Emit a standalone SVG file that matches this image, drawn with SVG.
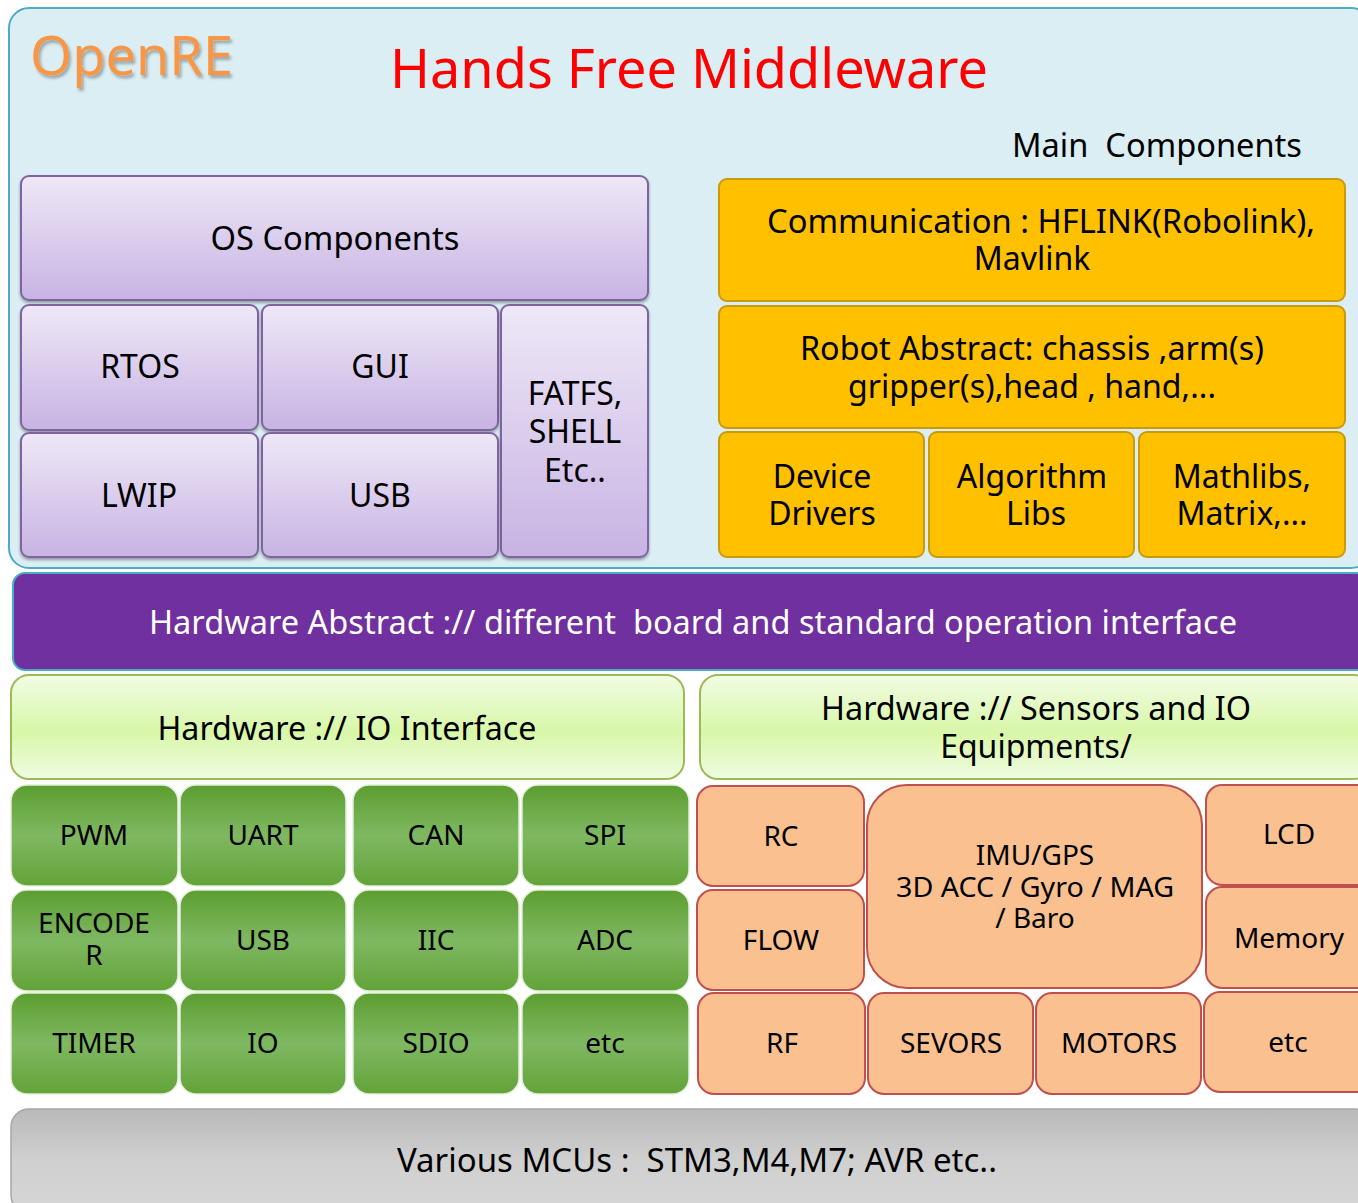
<svg xmlns="http://www.w3.org/2000/svg" width="1358" height="1203" viewBox="0 0 1358 1203">
<defs>
<linearGradient id="gPurple" x1="0" y1="0" x2="0" y2="1">
<stop offset="0" stop-color="#EEE8F7"/><stop offset="1" stop-color="#C8B3E3"/>
</linearGradient>
<linearGradient id="gGreen" x1="0" y1="0" x2="0" y2="1">
<stop offset="0" stop-color="#5C9E30"/><stop offset="0.5" stop-color="#7FB862"/><stop offset="1" stop-color="#62A338"/>
</linearGradient>
<linearGradient id="gLime" x1="0" y1="0" x2="0" y2="1">
<stop offset="0" stop-color="#F1FCE4"/><stop offset="0.55" stop-color="#D8F7A8"/><stop offset="1" stop-color="#F0FCE2"/>
</linearGradient>
<linearGradient id="gGrey" x1="0" y1="0" x2="0" y2="1">
<stop offset="0" stop-color="#B9B9B9"/><stop offset="0.5" stop-color="#D0D0D0"/><stop offset="1" stop-color="#D6D6D6"/>
</linearGradient>
<filter id="shadow" x="-10%" y="-10%" width="120%" height="130%">
<feDropShadow dx="0" dy="2" stdDeviation="1.5" flood-color="#000" flood-opacity="0.35"/>
</filter>
<filter id="tshadow" x="-10%" y="-10%" width="130%" height="140%">
<feDropShadow dx="2" dy="3" stdDeviation="1.5" flood-color="#000" flood-opacity="0.3"/>
</filter>
</defs>
<style>
text{font-family:"Noto Sans","Open Sans","Liberation Sans",sans-serif;text-anchor:middle;fill:#000}
.purple{fill:url(#gPurple);stroke:#7F64A2;stroke-width:2;filter:url(#shadow)}
.gold{fill:#FFC000;stroke:#C99A0C;stroke-width:2}
.green{fill:url(#gGreen);stroke:#E4EEDC;stroke-width:1.5}
.salmon{fill:#FAC090;stroke:#C0504D;stroke-width:2}
.lime{fill:url(#gLime);stroke:#9BBB59;stroke-width:2}
.t32{font-size:32px}
.t28{font-size:28px}
</style>

<g id="top-panel">
<rect x="9" y="8" width="1362" height="560" rx="20" fill="#DAEEF3" stroke="#4BACC6" stroke-width="2"/>
<text x="30" y="75" font-size="54" style="text-anchor:start;fill:#F79646" filter="url(#tshadow)" textLength="203" lengthAdjust="spacingAndGlyphs">OpenRE</text>
<text x="689" y="88" font-size="54" style="fill:#FF0000" textLength="598" lengthAdjust="spacingAndGlyphs">Hands Free Middleware</text>
<text x="1157" y="157" class="t32" xml:space="preserve" textLength="290" lengthAdjust="spacingAndGlyphs">Main  Components</text>
</g>

<g id="os-components">
<rect class="purple" x="21" y="176" width="627" height="124" rx="8"/>
<text x="335" y="250" class="t32" textLength="249" lengthAdjust="spacingAndGlyphs">OS Components</text>
</g>
<g id="rtos">
<rect class="purple" x="21" y="305" width="237" height="125" rx="8"/>
<text x="140" y="378" class="t32">RTOS</text>
</g>
<g id="gui">
<rect class="purple" x="262" y="305" width="236" height="125" rx="8"/>
<text x="380" y="378" class="t32">GUI</text>
</g>
<g id="fatfs">
<rect class="purple" x="501" y="305" width="147" height="252" rx="8"/>
<text x="575" y="405" class="t32">FATFS,</text>
<text x="575" y="443" class="t32">SHELL</text>
<text x="575" y="482" class="t32">Etc..</text>
</g>
<g id="lwip">
<rect class="purple" x="21" y="433" width="237" height="124" rx="8"/>
<text x="139" y="507" class="t32">LWIP</text>
</g>
<g id="usb-os">
<rect class="purple" x="262" y="433" width="236" height="124" rx="8"/>
<text x="380" y="507" class="t32">USB</text>
</g>

<g id="communication">
<rect class="gold" x="719" y="179" width="626" height="122" rx="8"/>
<text x="1041" y="233" class="t32" textLength="548" lengthAdjust="spacingAndGlyphs">Communication : HFLINK(Robolink),</text>
<text x="1032" y="270" class="t32">Mavlink</text>
</g>
<g id="robot-abstract">
<rect class="gold" x="719" y="306" width="626" height="122" rx="8"/>
<text x="1032" y="360" class="t32" textLength="464" lengthAdjust="spacingAndGlyphs">Robot Abstract: chassis ,arm(s)</text>
<text x="1032" y="398" class="t32" textLength="368" lengthAdjust="spacingAndGlyphs">gripper(s),head , hand,...</text>
</g>
<g id="device-drivers">
<rect class="gold" x="719" y="432" width="205" height="125" rx="8"/>
<text x="822" y="488" class="t32">Device</text>
<text x="822" y="525" class="t32">Drivers</text>
</g>
<g id="algorithm-libs">
<rect class="gold" x="929" y="432" width="205" height="125" rx="8"/>
<text x="1032" y="488" class="t32">Algorithm</text>
<text x="1036" y="525" class="t32">Libs</text>
</g>
<g id="mathlibs">
<rect class="gold" x="1139" y="432" width="206" height="125" rx="8"/>
<text x="1242" y="488" class="t32">Mathlibs,</text>
<text x="1242" y="525" class="t32">Matrix,...</text>
</g>

<g id="hardware-abstract">
<rect x="13" y="573" width="1362" height="97" rx="12" fill="#7030A0" stroke="#4BACC6" stroke-width="2"/>
<text x="693" y="634" class="t32" style="fill:#FFFFFF" xml:space="preserve" textLength="1088" lengthAdjust="spacingAndGlyphs">Hardware Abstract :// different  board and standard operation interface</text>
</g>

<g id="io-interface">
<rect class="lime" x="11" y="675" width="673" height="104" rx="18"/>
<text x="347" y="740" class="t32" textLength="379" lengthAdjust="spacingAndGlyphs">Hardware :// IO Interface</text>
</g>
<g id="sensors-io">
<rect class="lime" x="700" y="675" width="672" height="104" rx="18"/>
<text x="1036" y="720" class="t32" textLength="430" lengthAdjust="spacingAndGlyphs">Hardware :// Sensors and IO</text>
<text x="1036" y="758" class="t32">Equipments/</text>
</g>

<g id="pwm"><rect class="green" x="11" y="785" width="167" height="101" rx="16"/><text x="94" y="845" class="t28">PWM</text></g>
<g id="uart"><rect class="green" x="180" y="785" width="166" height="101" rx="16"/><text x="263" y="845" class="t28">UART</text></g>
<g id="can"><rect class="green" x="353" y="785" width="166" height="101" rx="16"/><text x="436" y="845" class="t28">CAN</text></g>
<g id="spi"><rect class="green" x="522" y="785" width="167" height="101" rx="16"/><text x="605" y="845" class="t28">SPI</text></g>
<g id="encoder"><rect class="green" x="11" y="890" width="167" height="101" rx="16"/><text x="94" y="933" class="t28">ENCODE</text><text x="94" y="965" class="t28">R</text></g>
<g id="usb-hw"><rect class="green" x="180" y="890" width="166" height="101" rx="16"/><text x="263" y="950" class="t28">USB</text></g>
<g id="iic"><rect class="green" x="353" y="890" width="166" height="101" rx="16"/><text x="436" y="950" class="t28">IIC</text></g>
<g id="adc"><rect class="green" x="522" y="890" width="167" height="101" rx="16"/><text x="605" y="950" class="t28">ADC</text></g>
<g id="timer"><rect class="green" x="11" y="993" width="167" height="101" rx="16"/><text x="94" y="1053" class="t28">TIMER</text></g>
<g id="io"><rect class="green" x="180" y="993" width="166" height="101" rx="16"/><text x="263" y="1053" class="t28">IO</text></g>
<g id="sdio"><rect class="green" x="353" y="993" width="166" height="101" rx="16"/><text x="436" y="1053" class="t28">SDIO</text></g>
<g id="etc-io"><rect class="green" x="522" y="993" width="167" height="101" rx="16"/><text x="605" y="1053" class="t28">etc</text></g>

<g id="rc"><rect class="salmon" x="697" y="786" width="167" height="100" rx="16"/><text x="781" y="846" class="t28">RC</text></g>
<g id="flow"><rect class="salmon" x="697" y="890" width="167" height="100" rx="16"/><text x="781" y="950" class="t28">FLOW</text></g>
<g id="imu"><rect class="salmon" x="867" y="785" width="335" height="203" rx="40"/>
<text x="1035" y="865" class="t28">IMU/GPS</text>
<text x="1035" y="897" class="t28" textLength="278" lengthAdjust="spacingAndGlyphs">3D ACC / Gyro / MAG</text>
<text x="1035" y="928" class="t28">/ Baro</text></g>
<g id="lcd"><rect class="salmon" x="1206" y="785" width="166" height="100" rx="16"/><text x="1289" y="844" class="t28">LCD</text></g>
<g id="memory"><rect class="salmon" x="1206" y="887" width="166" height="101" rx="16"/><text x="1289" y="948" class="t28">Memory</text></g>
<g id="rf"><rect class="salmon" x="698" y="993" width="167" height="101" rx="16"/><text x="782" y="1053" class="t28">RF</text></g>
<g id="sevors"><rect class="salmon" x="868" y="993" width="165" height="101" rx="16"/><text x="951" y="1053" class="t28">SEVORS</text></g>
<g id="motors"><rect class="salmon" x="1036" y="993" width="165" height="101" rx="16"/><text x="1119" y="1053" class="t28">MOTORS</text></g>
<g id="etc-sensors"><rect class="salmon" x="1204" y="992" width="168" height="100" rx="16"/><text x="1288" y="1052" class="t28">etc</text></g>

<g id="mcus">
<rect x="11" y="1109" width="1362" height="104" rx="18" fill="url(#gGrey)" stroke="#A6A6A6" stroke-width="1.5"/>
<text x="697" y="1172" class="t32" xml:space="preserve" textLength="600" lengthAdjust="spacingAndGlyphs">Various MCUs :  STM3,M4,M7; AVR etc..</text>
</g>

<g id="connectors"></g>
</svg>
